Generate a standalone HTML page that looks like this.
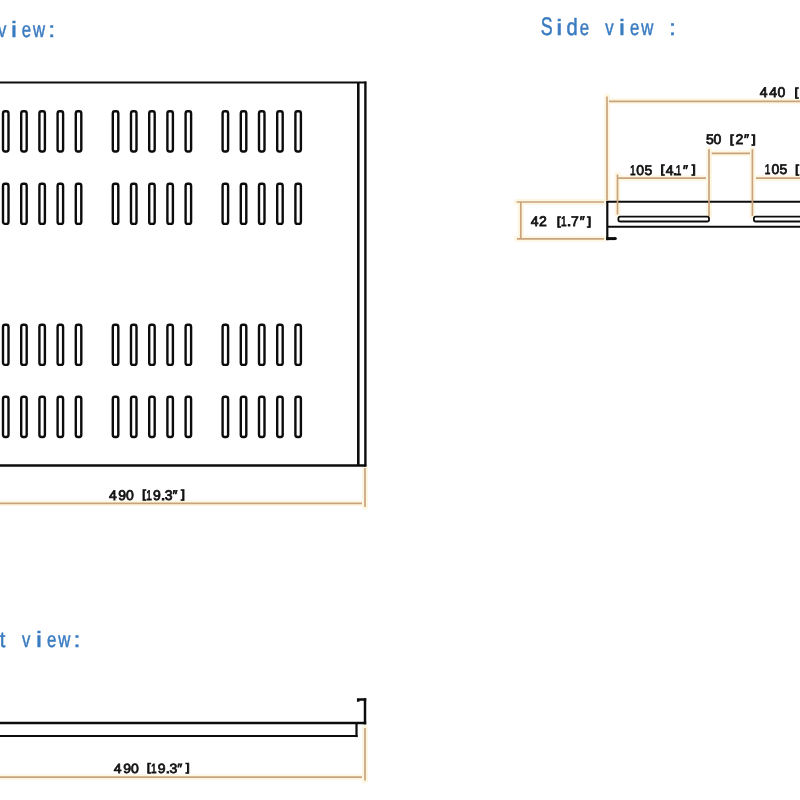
<!DOCTYPE html>
<html><head><meta charset="utf-8"><style>
html,body{margin:0;padding:0;background:#fff;width:800px;height:800px;overflow:hidden}
svg{display:block}
text{text-rendering:geometricPrecision}
.tg{opacity:0.995}
.t{font-family:"Liberation Sans",sans-serif;fill:#3a7bc0;font-size:22px;stroke:#3a7bc0;stroke-width:0.5px}
.d{font-family:"Liberation Sans",sans-serif;fill:#111;font-size:14px;stroke:#111;stroke-width:0.8px}
</style></head><body>
<svg width="800" height="800" viewBox="0 0 800 800">
<rect width="800" height="800" fill="#fff"/>
<path d="M0 503.3H362" stroke="#fdf6e2" stroke-width="6" stroke-linecap="round"/>
<path d="M365 468V507" stroke="#fdf6e2" stroke-width="6" stroke-linecap="round"/>
<path d="M607 96.5V200.5" stroke="#fdf6e2" stroke-width="6" stroke-linecap="round"/>
<path d="M609 101.3H800" stroke="#fdf6e2" stroke-width="6" stroke-linecap="round"/>
<path d="M516.7 202H604" stroke="#fdf6e2" stroke-width="6" stroke-linecap="round"/>
<path d="M517 238.8H604" stroke="#fdf6e2" stroke-width="6" stroke-linecap="round"/>
<path d="M520.8 202V238.8" stroke="#fdf6e2" stroke-width="6" stroke-linecap="round"/>
<path d="M617.5 174.5V214.5" stroke="#fdf6e2" stroke-width="6" stroke-linecap="round"/>
<path d="M618 178.2H706" stroke="#fdf6e2" stroke-width="6" stroke-linecap="round"/>
<path d="M709 149.2V216" stroke="#fdf6e2" stroke-width="6" stroke-linecap="round"/>
<path d="M752.4 149.2V216" stroke="#fdf6e2" stroke-width="6" stroke-linecap="round"/>
<path d="M711.7 153.3H750" stroke="#fdf6e2" stroke-width="6" stroke-linecap="round"/>
<path d="M756 178.2H800" stroke="#fdf6e2" stroke-width="6" stroke-linecap="round"/>
<path d="M0 777.2H362" stroke="#fdf6e2" stroke-width="6" stroke-linecap="round"/>
<path d="M365 728V780.5" stroke="#fdf6e2" stroke-width="6" stroke-linecap="round"/>
<path d="M0 82.5H366.2" stroke="#0c0c0c" stroke-width="2"/>
<path d="M0 465.5H366.2" stroke="#0c0c0c" stroke-width="2.3"/>
<path d="M365.4 81.5V466.6" stroke="#0c0c0c" stroke-width="2.4"/>
<path d="M358.3 83V465" stroke="#0c0c0c" stroke-width="2.6"/>
<rect x="3.00" y="111.30" width="5.50" height="40.20" rx="2" ry="2.2" fill="none" stroke="#0c0c0c" stroke-width="2.4"/>
<rect x="21.20" y="111.30" width="5.50" height="40.20" rx="2" ry="2.2" fill="none" stroke="#0c0c0c" stroke-width="2.4"/>
<rect x="39.40" y="111.30" width="5.50" height="40.20" rx="2" ry="2.2" fill="none" stroke="#0c0c0c" stroke-width="2.4"/>
<rect x="57.60" y="111.30" width="5.50" height="40.20" rx="2" ry="2.2" fill="none" stroke="#0c0c0c" stroke-width="2.4"/>
<rect x="75.80" y="111.30" width="5.50" height="40.20" rx="2" ry="2.2" fill="none" stroke="#0c0c0c" stroke-width="2.4"/>
<rect x="112.80" y="111.30" width="5.50" height="40.20" rx="2" ry="2.2" fill="none" stroke="#0c0c0c" stroke-width="2.4"/>
<rect x="131.00" y="111.30" width="5.50" height="40.20" rx="2" ry="2.2" fill="none" stroke="#0c0c0c" stroke-width="2.4"/>
<rect x="149.20" y="111.30" width="5.50" height="40.20" rx="2" ry="2.2" fill="none" stroke="#0c0c0c" stroke-width="2.4"/>
<rect x="167.40" y="111.30" width="5.50" height="40.20" rx="2" ry="2.2" fill="none" stroke="#0c0c0c" stroke-width="2.4"/>
<rect x="185.60" y="111.30" width="5.50" height="40.20" rx="2" ry="2.2" fill="none" stroke="#0c0c0c" stroke-width="2.4"/>
<rect x="222.60" y="111.30" width="5.50" height="40.20" rx="2" ry="2.2" fill="none" stroke="#0c0c0c" stroke-width="2.4"/>
<rect x="240.80" y="111.30" width="5.50" height="40.20" rx="2" ry="2.2" fill="none" stroke="#0c0c0c" stroke-width="2.4"/>
<rect x="259.00" y="111.30" width="5.50" height="40.20" rx="2" ry="2.2" fill="none" stroke="#0c0c0c" stroke-width="2.4"/>
<rect x="277.20" y="111.30" width="5.50" height="40.20" rx="2" ry="2.2" fill="none" stroke="#0c0c0c" stroke-width="2.4"/>
<rect x="295.40" y="111.30" width="5.50" height="40.20" rx="2" ry="2.2" fill="none" stroke="#0c0c0c" stroke-width="2.4"/>
<rect x="3.00" y="183.70" width="5.50" height="40.20" rx="2" ry="2.2" fill="none" stroke="#0c0c0c" stroke-width="2.4"/>
<rect x="21.20" y="183.70" width="5.50" height="40.20" rx="2" ry="2.2" fill="none" stroke="#0c0c0c" stroke-width="2.4"/>
<rect x="39.40" y="183.70" width="5.50" height="40.20" rx="2" ry="2.2" fill="none" stroke="#0c0c0c" stroke-width="2.4"/>
<rect x="57.60" y="183.70" width="5.50" height="40.20" rx="2" ry="2.2" fill="none" stroke="#0c0c0c" stroke-width="2.4"/>
<rect x="75.80" y="183.70" width="5.50" height="40.20" rx="2" ry="2.2" fill="none" stroke="#0c0c0c" stroke-width="2.4"/>
<rect x="112.80" y="183.70" width="5.50" height="40.20" rx="2" ry="2.2" fill="none" stroke="#0c0c0c" stroke-width="2.4"/>
<rect x="131.00" y="183.70" width="5.50" height="40.20" rx="2" ry="2.2" fill="none" stroke="#0c0c0c" stroke-width="2.4"/>
<rect x="149.20" y="183.70" width="5.50" height="40.20" rx="2" ry="2.2" fill="none" stroke="#0c0c0c" stroke-width="2.4"/>
<rect x="167.40" y="183.70" width="5.50" height="40.20" rx="2" ry="2.2" fill="none" stroke="#0c0c0c" stroke-width="2.4"/>
<rect x="185.60" y="183.70" width="5.50" height="40.20" rx="2" ry="2.2" fill="none" stroke="#0c0c0c" stroke-width="2.4"/>
<rect x="222.60" y="183.70" width="5.50" height="40.20" rx="2" ry="2.2" fill="none" stroke="#0c0c0c" stroke-width="2.4"/>
<rect x="240.80" y="183.70" width="5.50" height="40.20" rx="2" ry="2.2" fill="none" stroke="#0c0c0c" stroke-width="2.4"/>
<rect x="259.00" y="183.70" width="5.50" height="40.20" rx="2" ry="2.2" fill="none" stroke="#0c0c0c" stroke-width="2.4"/>
<rect x="277.20" y="183.70" width="5.50" height="40.20" rx="2" ry="2.2" fill="none" stroke="#0c0c0c" stroke-width="2.4"/>
<rect x="295.40" y="183.70" width="5.50" height="40.20" rx="2" ry="2.2" fill="none" stroke="#0c0c0c" stroke-width="2.4"/>
<rect x="3.00" y="324.70" width="5.50" height="40.20" rx="2" ry="2.2" fill="none" stroke="#0c0c0c" stroke-width="2.4"/>
<rect x="21.20" y="324.70" width="5.50" height="40.20" rx="2" ry="2.2" fill="none" stroke="#0c0c0c" stroke-width="2.4"/>
<rect x="39.40" y="324.70" width="5.50" height="40.20" rx="2" ry="2.2" fill="none" stroke="#0c0c0c" stroke-width="2.4"/>
<rect x="57.60" y="324.70" width="5.50" height="40.20" rx="2" ry="2.2" fill="none" stroke="#0c0c0c" stroke-width="2.4"/>
<rect x="75.80" y="324.70" width="5.50" height="40.20" rx="2" ry="2.2" fill="none" stroke="#0c0c0c" stroke-width="2.4"/>
<rect x="112.80" y="324.70" width="5.50" height="40.20" rx="2" ry="2.2" fill="none" stroke="#0c0c0c" stroke-width="2.4"/>
<rect x="131.00" y="324.70" width="5.50" height="40.20" rx="2" ry="2.2" fill="none" stroke="#0c0c0c" stroke-width="2.4"/>
<rect x="149.20" y="324.70" width="5.50" height="40.20" rx="2" ry="2.2" fill="none" stroke="#0c0c0c" stroke-width="2.4"/>
<rect x="167.40" y="324.70" width="5.50" height="40.20" rx="2" ry="2.2" fill="none" stroke="#0c0c0c" stroke-width="2.4"/>
<rect x="185.60" y="324.70" width="5.50" height="40.20" rx="2" ry="2.2" fill="none" stroke="#0c0c0c" stroke-width="2.4"/>
<rect x="222.60" y="324.70" width="5.50" height="40.20" rx="2" ry="2.2" fill="none" stroke="#0c0c0c" stroke-width="2.4"/>
<rect x="240.80" y="324.70" width="5.50" height="40.20" rx="2" ry="2.2" fill="none" stroke="#0c0c0c" stroke-width="2.4"/>
<rect x="259.00" y="324.70" width="5.50" height="40.20" rx="2" ry="2.2" fill="none" stroke="#0c0c0c" stroke-width="2.4"/>
<rect x="277.20" y="324.70" width="5.50" height="40.20" rx="2" ry="2.2" fill="none" stroke="#0c0c0c" stroke-width="2.4"/>
<rect x="295.40" y="324.70" width="5.50" height="40.20" rx="2" ry="2.2" fill="none" stroke="#0c0c0c" stroke-width="2.4"/>
<rect x="3.00" y="396.80" width="5.50" height="40.20" rx="2" ry="2.2" fill="none" stroke="#0c0c0c" stroke-width="2.4"/>
<rect x="21.20" y="396.80" width="5.50" height="40.20" rx="2" ry="2.2" fill="none" stroke="#0c0c0c" stroke-width="2.4"/>
<rect x="39.40" y="396.80" width="5.50" height="40.20" rx="2" ry="2.2" fill="none" stroke="#0c0c0c" stroke-width="2.4"/>
<rect x="57.60" y="396.80" width="5.50" height="40.20" rx="2" ry="2.2" fill="none" stroke="#0c0c0c" stroke-width="2.4"/>
<rect x="75.80" y="396.80" width="5.50" height="40.20" rx="2" ry="2.2" fill="none" stroke="#0c0c0c" stroke-width="2.4"/>
<rect x="112.80" y="396.80" width="5.50" height="40.20" rx="2" ry="2.2" fill="none" stroke="#0c0c0c" stroke-width="2.4"/>
<rect x="131.00" y="396.80" width="5.50" height="40.20" rx="2" ry="2.2" fill="none" stroke="#0c0c0c" stroke-width="2.4"/>
<rect x="149.20" y="396.80" width="5.50" height="40.20" rx="2" ry="2.2" fill="none" stroke="#0c0c0c" stroke-width="2.4"/>
<rect x="167.40" y="396.80" width="5.50" height="40.20" rx="2" ry="2.2" fill="none" stroke="#0c0c0c" stroke-width="2.4"/>
<rect x="185.60" y="396.80" width="5.50" height="40.20" rx="2" ry="2.2" fill="none" stroke="#0c0c0c" stroke-width="2.4"/>
<rect x="222.60" y="396.80" width="5.50" height="40.20" rx="2" ry="2.2" fill="none" stroke="#0c0c0c" stroke-width="2.4"/>
<rect x="240.80" y="396.80" width="5.50" height="40.20" rx="2" ry="2.2" fill="none" stroke="#0c0c0c" stroke-width="2.4"/>
<rect x="259.00" y="396.80" width="5.50" height="40.20" rx="2" ry="2.2" fill="none" stroke="#0c0c0c" stroke-width="2.4"/>
<rect x="277.20" y="396.80" width="5.50" height="40.20" rx="2" ry="2.2" fill="none" stroke="#0c0c0c" stroke-width="2.4"/>
<rect x="295.40" y="396.80" width="5.50" height="40.20" rx="2" ry="2.2" fill="none" stroke="#0c0c0c" stroke-width="2.4"/>
<path d="M607.3 201V240.2" stroke="#0c0c0c" stroke-width="2.2"/>
<path d="M606.5 201.8H800" stroke="#0c0c0c" stroke-width="2"/>
<path d="M607.3 226.8H800" stroke="#0c0c0c" stroke-width="2"/>
<path d="M606.2 238.6H615.2" stroke="#0c0c0c" stroke-width="3"/>
<circle cx="615.3" cy="238.6" r="1.5" fill="#0c0c0c"/>
<rect x="618.4" y="216.7" width="90.6" height="4.8" rx="1.8" fill="none" stroke="#0c0c0c" stroke-width="1.8"/>
<rect x="753.9" y="216.7" width="90.6" height="4.8" rx="1.8" fill="none" stroke="#0c0c0c" stroke-width="1.8"/>
<path d="M0 723.1H366.2" stroke="#0c0c0c" stroke-width="2.5"/>
<path d="M0 736H357.6" stroke="#0c0c0c" stroke-width="2.2"/>
<path d="M356.5 724V737.1" stroke="#0c0c0c" stroke-width="2.2"/>
<path d="M365 698.2V724.4" stroke="#0c0c0c" stroke-width="2.5"/>
<path d="M358.2 701.8V699.4H366.2" stroke="#0c0c0c" stroke-width="2.5" fill="none"/>
<path d="M0 503.3H362" stroke="#c9a37c" stroke-width="1.7"/>
<path d="M365 468V507" stroke="#c9a37c" stroke-width="1.7"/>
<path d="M607 96.5V200.5" stroke="#c9a37c" stroke-width="1.7"/>
<path d="M609 101.3H800" stroke="#c9a37c" stroke-width="1.7"/>
<path d="M516.7 202H604" stroke="#c9a37c" stroke-width="1.7"/>
<path d="M517 238.8H604" stroke="#c9a37c" stroke-width="1.7"/>
<path d="M520.8 202V238.8" stroke="#c9a37c" stroke-width="1.7"/>
<path d="M617.5 174.5V214.5" stroke="#c9a37c" stroke-width="1.7"/>
<path d="M618 178.2H706" stroke="#c9a37c" stroke-width="1.7"/>
<path d="M709 149.2V216" stroke="#c9a37c" stroke-width="1.7"/>
<path d="M752.4 149.2V216" stroke="#c9a37c" stroke-width="1.7"/>
<path d="M711.7 153.3H750" stroke="#c9a37c" stroke-width="1.7"/>
<path d="M756 178.2H800" stroke="#c9a37c" stroke-width="1.7"/>
<path d="M0 777.2H362" stroke="#c9a37c" stroke-width="1.7"/>
<path d="M365 728V780.5" stroke="#c9a37c" stroke-width="1.7"/>
<g class="tg">
<text class="t" transform="translate(-1.98 37.00) scale(0.760 1.000)">v</text>
<text class="t" transform="translate(10.93 37.00) scale(1.216 1.000)">i</text>
<text class="t" transform="translate(21.87 37.00) scale(0.760 1.000)">e</text>
<text class="t" transform="translate(33.05 37.00) scale(0.760 1.000)">w</text>
<text class="t" transform="translate(48.22 37.00) scale(1.140 1.000)">:</text>
<text class="t" style="font-size:25.5px" transform="translate(540.66 35.00) scale(0.699 1.000)">S</text>
<text class="t" transform="translate(556.21 35.00) scale(1.216 1.000)">i</text>
<text class="t" transform="translate(566.41 35.00) scale(0.912 1.070)">d</text>
<text class="t" transform="translate(579.71 35.00) scale(0.760 1.000)">e</text>
<text class="t" transform="translate(605.32 35.00) scale(0.760 1.000)">v</text>
<text class="t" transform="translate(619.11 35.00) scale(1.216 1.000)">i</text>
<text class="t" transform="translate(630.03 35.00) scale(0.760 1.000)">e</text>
<text class="t" transform="translate(641.19 35.00) scale(0.760 1.000)">w</text>
<text class="t" transform="translate(668.92 35.00) scale(1.140 1.000)">:</text>
<text class="t" transform="translate(-0.27 647.00) scale(0.912 1.000)">t</text>
<text class="t" transform="translate(22.07 647.00) scale(0.760 1.000)">v</text>
<text class="t" transform="translate(35.94 647.00) scale(1.216 1.000)">i</text>
<text class="t" transform="translate(46.94 647.00) scale(0.760 1.000)">e</text>
<text class="t" transform="translate(58.18 647.00) scale(0.760 1.000)">w</text>
<text class="t" transform="translate(73.41 647.00) scale(1.140 1.000)">:</text>
<text class="d" transform="translate(108.90 499.50) scale(1.000 1.000)">4</text>
<text class="d" transform="translate(118.36 499.50) scale(1.000 1.000)">9</text>
<text class="d" transform="translate(126.11 499.50) scale(1.000 1.000)">0</text>
<text class="d" style="font-size:11.5px" transform="translate(142.05 497.90) scale(1.250 1.000)">[</text>
<text class="d" transform="translate(146.31 499.50) scale(0.720 1.000)">1</text>
<text class="d" transform="translate(153.01 499.50) scale(1.000 1.000)">9</text>
<text class="d" transform="translate(160.77 499.50) scale(1.200 1.000)">.</text>
<text class="d" transform="translate(164.65 499.50) scale(1.000 1.000)">3</text>
<text class="d" transform="translate(172.46 499.50) scale(1.000 1.000)">″</text>
<text class="d" style="font-size:11.5px" transform="translate(181.06 497.90) scale(1.250 1.000)">]</text>
<text class="d" transform="translate(113.70 772.80) scale(1.000 0.950)">4</text>
<text class="d" transform="translate(123.16 772.80) scale(1.000 0.950)">9</text>
<text class="d" transform="translate(130.91 772.80) scale(1.000 0.950)">0</text>
<text class="d" style="font-size:11.5px" transform="translate(146.85 771.20) scale(1.250 0.950)">[</text>
<text class="d" transform="translate(151.11 772.80) scale(0.720 0.950)">1</text>
<text class="d" transform="translate(157.81 772.80) scale(1.000 0.950)">9</text>
<text class="d" transform="translate(165.57 772.80) scale(1.200 0.950)">.</text>
<text class="d" transform="translate(169.45 772.80) scale(1.000 0.950)">3</text>
<text class="d" transform="translate(177.26 772.80) scale(1.000 0.950)">″</text>
<text class="d" style="font-size:11.5px" transform="translate(185.86 771.20) scale(1.250 0.950)">]</text>
<text class="d" transform="translate(759.85 97.20) scale(1.000 1.000)">4</text>
<text class="d" transform="translate(769.35 97.20) scale(1.000 1.000)">4</text>
<text class="d" transform="translate(777.51 97.20) scale(1.000 1.000)">0</text>
<text class="d" style="font-size:11.5px" transform="translate(794.55 95.60) scale(1.250 1.000)">[</text>
<text class="d" transform="translate(530.75 226.20) scale(1.000 1.000)">4</text>
<text class="d" transform="translate(539.01 226.20) scale(1.000 1.000)">2</text>
<text class="d" style="font-size:11.5px" transform="translate(556.65 224.60) scale(1.250 1.000)">[</text>
<text class="d" transform="translate(560.96 226.20) scale(0.720 1.000)">1</text>
<text class="d" transform="translate(566.87 226.20) scale(1.200 1.000)">.</text>
<text class="d" transform="translate(571.00 226.20) scale(1.000 1.000)">7</text>
<text class="d" transform="translate(579.66 226.20) scale(1.000 1.000)">″</text>
<text class="d" style="font-size:11.5px" transform="translate(587.36 224.60) scale(1.250 1.000)">]</text>
<text class="d" transform="translate(630.06 174.50) scale(0.720 1.000)">1</text>
<text class="d" transform="translate(636.31 174.50) scale(1.000 1.000)">0</text>
<text class="d" transform="translate(644.62 174.50) scale(1.000 1.000)">5</text>
<text class="d" style="font-size:11.5px" transform="translate(660.55 172.90) scale(1.250 1.000)">[</text>
<text class="d" transform="translate(665.65 174.50) scale(1.000 1.000)">4</text>
<text class="d" transform="translate(672.67 174.50) scale(1.200 1.000)">.</text>
<text class="d" transform="translate(675.76 174.50) scale(0.720 1.000)">1</text>
<text class="d" transform="translate(683.06 174.50) scale(1.000 1.000)">″</text>
<text class="d" style="font-size:11.5px" transform="translate(691.66 172.90) scale(1.250 1.000)">]</text>
<text class="d" transform="translate(706.12 144.20) scale(1.000 1.000)">5</text>
<text class="d" transform="translate(713.61 144.20) scale(1.000 1.000)">0</text>
<text class="d" style="font-size:11.5px" transform="translate(729.75 142.60) scale(1.250 1.000)">[</text>
<text class="d" transform="translate(735.51 144.20) scale(1.000 1.000)">2</text>
<text class="d" transform="translate(743.96 144.20) scale(1.000 1.000)">″</text>
<text class="d" style="font-size:11.5px" transform="translate(751.86 142.60) scale(1.250 1.000)">]</text>
<text class="d" transform="translate(764.86 174.30) scale(0.720 1.000)">1</text>
<text class="d" transform="translate(771.41 174.30) scale(1.000 1.000)">0</text>
<text class="d" transform="translate(779.52 174.30) scale(1.000 1.000)">5</text>
<text class="d" style="font-size:11.5px" transform="translate(795.05 172.70) scale(1.250 1.000)">[</text>
</g>
</svg>
</body></html>
